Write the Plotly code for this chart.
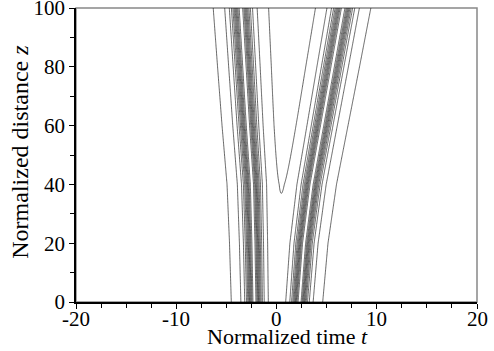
import numpy as np
import plotly.graph_objects as go

# Soliton trajectories (t position of each pulse centre vs z)
z_knots = [0, 20, 40, 60, 80, 100]
left_center = [-2.2, -2.3, -2.45, -2.85, -3.2, -3.55]
right_center = [2.3, 2.75, 3.5, 4.55, 5.6, 6.65]
pulse_width = [0.59, 0.61, 0.635, 0.66, 0.685, 0.706]

# contour levels: one near-zero outer level, then evenly spaced levels
outer_level = 0.0016
level_start = 0.04
level_step = 0.1
level_end = 1.0

x_ticks = [-20, -10, 0, 10, 20]
y_ticks = [0, 20, 40, 60, 80, 100]

t = np.linspace(-20, 20, 801)
z = np.linspace(0, 100, 201)
c1 = np.interp(z, z_knots, left_center)[:, None]
c2 = np.interp(z, z_knots, right_center)[:, None]
w = np.interp(z, z_knots, pulse_width)[:, None]
T = t[None, :]
field = 1 / np.cosh((T - c1) / w) + 1 / np.cosh((T - c2) / w)
intensity = field ** 2

line_style = dict(color="black", width=0.6)
fig = go.Figure()
fig.add_trace(go.Contour(
    x=t, y=z, z=intensity,
    contours=dict(coloring="none", start=outer_level, end=outer_level, size=1),
    line=line_style, showscale=False, hoverinfo="skip",
))
fig.add_trace(go.Contour(
    x=t, y=z, z=intensity,
    contours=dict(coloring="none", start=level_start, end=level_end, size=level_step),
    line=line_style, showscale=False, hoverinfo="skip",
))

font = "Liberation Serif"
annotations = [
    dict(text="Normalized time <i>t</i>", xref="paper", yref="paper",
         x=0.527, y=-0.116, xanchor="center", yanchor="middle", showarrow=False,
         font=dict(family=font, size=22, color="black")),
    dict(text="Normalized distance <i>z</i>", xref="paper", yref="paper",
         x=-0.139, y=0.512, xanchor="center", yanchor="middle", showarrow=False,
         textangle=-90, font=dict(family=font, size=24, color="black")),
]
for v in x_ticks:
    annotations.append(dict(text=str(v), xref="x", yref="paper", x=v, y=-0.058,
                            xanchor="center", yanchor="middle", showarrow=False,
                            font=dict(family=font, size=21, color="black")))

fig.update_layout(
    template="none",
    width=494, height=351,
    margin=dict(l=76, r=17, t=8, b=49, autoexpand=False),
    paper_bgcolor="white", plot_bgcolor="white",
    font=dict(family=font, size=21, color="black"),
    showlegend=False,
    shapes=[dict(type="rect", xref="paper", yref="paper", x0=0, y0=0, x1=1, y1=1,
                 line=dict(color="#888888", width=1.5), layer="below")],
    annotations=annotations,
)
fig.update_xaxes(
    range=[-20, 20], tickvals=x_ticks, showticklabels=False,
    automargin=False,
    showline=True, linecolor="black", linewidth=1.5, mirror=False,
    ticks="outside", ticklen=5, tickwidth=1.2, tickcolor="black",
    minor=dict(dtick=2.5, ticks="outside", ticklen=4, tickwidth=1.2, tickcolor="black"),
    showgrid=False, zeroline=False,
)
fig.update_yaxes(
    range=[0, 100], tickvals=y_ticks, ticktext=[str(v) for v in y_ticks],
    automargin=False, ticklabeloverflow="allow",
    showline=True, linecolor="black", linewidth=1.5, mirror=False,
    ticks="outside", ticklen=5, tickwidth=1.2, tickcolor="black",
    minor=dict(dtick=10, ticks="outside", ticklen=4, tickwidth=1.2, tickcolor="black"),
    showgrid=False, zeroline=False,
    tickfont=dict(family=font, size=21),
)
fig.write_html("out.html", config={"displayModeBar": False},
               post_script="document.body.style.margin='0';")
